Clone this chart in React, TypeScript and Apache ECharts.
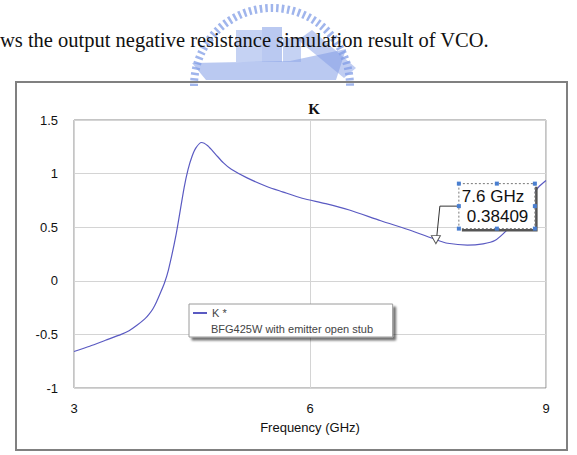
import React, { useEffect, useRef } from "react";
import * as echarts from "echarts";

const freqGHz = [3.0, 3.2, 3.4, 3.6, 3.7, 3.8, 3.9, 3.95, 4.0, 4.05, 4.1, 4.15, 4.2, 4.3, 4.4, 4.45, 4.5, 4.55, 4.62, 4.7, 4.8, 4.9, 5.0, 5.2, 5.45, 5.65, 5.9, 6.2, 6.5, 6.9, 7.3, 7.6, 7.75, 8.0, 8.2, 8.35, 8.5, 8.6, 8.7, 8.8, 8.9, 9.0];
const kValues = [-0.66, -0.61, -0.555, -0.5, -0.465, -0.415, -0.355, -0.315, -0.265, -0.195, -0.11, -0.02, 0.1, 0.44, 0.87, 1.04, 1.16, 1.24, 1.29, 1.26, 1.18, 1.1, 1.04, 0.96, 0.88, 0.83, 0.77, 0.72, 0.66, 0.56, 0.465, 0.38409, 0.35, 0.333, 0.345, 0.375, 0.47, 0.56, 0.66, 0.77, 0.87, 0.935];
const xTicks = [3, 6, 9];
const yTicks = [-1, -0.5, 0, 0.5, 1, 1.5];
const seriesName = "K *";
const seriesDesc = "BFG425W with emitter open stub";
const chartTitle = "K";
const xAxisName = "Frequency (GHz)";
const markerFreq = 7.6;
const markerValue = 0.38409;
const markerLines = ["7.6 GHz", "0.38409"];
const captionText = "ws the output negative resistance simulation result of VCO.";

export default function App() {
  const ref = useRef<HTMLDivElement>(null);
  useEffect(() => {
    if (!ref.current) return;
    const chart = echarts.init(ref.current, undefined, { renderer: "svg" });
    const data = freqGHz.map((f, i) => [f, kValues[i]]);
    chart.setOption({
      animation: false,
      backgroundColor: "#ffffff",
      title: {
        text: chartTitle,
        left: 309,
        top: 96,
        textAlign: "center",
        textStyle: { fontFamily: "Liberation Serif", fontSize: 15, fontWeight: "bold", color: "#111" },
      },
      grid: { left: 74, right: 31, top: 120, bottom: 67, show: true, borderColor: "#8a8a8a", borderWidth: 1, backgroundColor: "transparent" },
      legend: {
        left: 189,
        top: 304,
        orient: "vertical",
        padding: [3.5, 166, 18.5, 4],
        backgroundColor: "#ffffff",
        borderColor: "#9a9a9a",
        borderWidth: 1,
        shadowColor: "rgba(0,0,0,0.55)",
        shadowOffsetX: 3,
        shadowOffsetY: 3,
        shadowBlur: 2,
        itemWidth: 14,
        itemHeight: 2,
        itemGap: 4,
        icon: "rect",
        textStyle: { fontFamily: "Liberation Sans", fontSize: 11, color: "#444" },
        data: [seriesName],
      },
      xAxis: {
        type: "value",
        min: 3,
        max: 9,
        interval: 3,
        name: xAxisName,
        nameLocation: "middle",
        nameGap: 33,
        nameTextStyle: { fontFamily: "Liberation Sans", fontSize: 13, color: "#111" },
        axisLine: { show: false },
        axisTick: { show: false },
        axisLabel: { margin: 14, fontFamily: "Liberation Sans", fontSize: 13, color: "#111", customValues: xTicks },
        splitLine: { show: true, lineStyle: { color: "#d4d4d4", width: 1 } },
      },
      yAxis: {
        type: "value",
        min: -1,
        max: 1.5,
        interval: 0.5,
        axisLine: { show: false },
        axisTick: { show: false },
        axisLabel: { margin: 16, fontFamily: "Liberation Sans", fontSize: 13, color: "#111", customValues: yTicks },
        splitLine: { show: true, lineStyle: { color: "#d4d4d4", width: 1 } },
      },
      series: [
        {
          name: seriesName,
          type: "line",
          data,
          smooth: 0.25,
          showSymbol: false,
          lineStyle: { color: "#5a5ac2", width: 1.2 },
          itemStyle: { color: "#5a5ac2" },
          markPoint: {
            symbol: "triangle",
            symbolRotate: 180,
            symbolSize: [9, 8],
            itemStyle: { color: "#ffffff", borderColor: "#555", borderWidth: 1 },
            label: { show: false },
            data: [{ coord: [markerFreq, markerValue] }],
          },
        },
      ],
    });

    const pt = chart.convertToPixel({ gridIndex: 0 }, [markerFreq, markerValue]) as number[];
    const bx = pt[0] + 23;
    const by = pt[1] - 56;
    const bw = 76;
    const bh = 45;
    const handles = [
      [bx, by], [bx + bw / 2, by], [bx + bw, by],
      [bx, by + bh / 2], [bx + bw, by + bh / 2],
      [bx, by + bh], [bx + bw / 2, by + bh], [bx + bw, by + bh],
    ].map(([hx, hy]) => ({
      type: "rect",
      z: 120,
      shape: { x: hx - 2, y: hy - 2, width: 4, height: 4 },
      style: { fill: "#4a7fd0" },
    }));

    const logoColor = "rgba(120,150,228,0.7)";
    chart.setOption({
      graphic: [
        // watermark emblem
        {
          type: "arc",
          z: 1,
          shape: { cx: 272, cy: 86, r: 78, startAngle: Math.PI * 1.0, endAngle: Math.PI * 2.0 },
          style: { stroke: logoColor, lineWidth: 8, lineDash: [2.5, 3], fill: "none" },
        },
        {
          type: "polygon",
          z: 1,
          shape: { points: [[192, 63], [290, 61], [346, 49], [336, 80], [206, 80]] },
          style: { fill: "rgba(130,156,230,0.55)" },
        },
        { type: "rect", z: 1, shape: { x: 236, y: 30, width: 26, height: 32 }, style: { fill: "rgba(140,165,232,0.5)" } },
        { type: "rect", z: 1, shape: { x: 262, y: 27, width: 20, height: 35 }, style: { fill: "rgba(130,156,230,0.55)" } },
        { type: "rect", z: 1, shape: { x: 283, y: 38, width: 18, height: 24 }, style: { fill: "rgba(140,165,232,0.5)" } },
        {
          type: "polygon",
          z: 1,
          shape: { points: [[298, 40], [312, 30], [356, 68], [344, 78]] },
          style: { fill: "rgba(130,156,230,0.5)" },
        },
        {
          type: "text",
          z: 5,
          x: 0,
          y: 40,
          style: { text: captionText, fontFamily: "Liberation Serif", fontSize: 20.5, fill: "#111", verticalAlign: "middle" },
        },
        // outer frame
        {
          type: "rect",
          z: 2,
          shape: { x: 16, y: 82, width: 551, height: 368 },
          style: { fill: "none", stroke: "#808080", lineWidth: 2 },
        },
        // legend second line
        {
          type: "text",
          z: 110,
          x: 211,
          y: 329,
          style: { text: seriesDesc, fontFamily: "Liberation Sans", fontSize: 11, fill: "#444", verticalAlign: "middle" },
        },
        // annotation leader
        {
          type: "polyline",
          z: 100,
          shape: { points: [[bx, by + bh / 2], [pt[0] + 4, by + bh / 2], [pt[0] + 1, pt[1] - 4]] },
          style: { stroke: "#333", lineWidth: 1, fill: "none" },
        },
        // annotation shadow
        {
          type: "polyline",
          z: 100,
          shape: { points: [[bx + bw + 1.5, by + 3], [bx + bw + 1.5, by + bh + 1.5], [bx + 3, by + bh + 1.5]] },
          style: { stroke: "#555", lineWidth: 2.5, fill: "none" },
        },
        {
          type: "rect",
          z: 101,
          shape: { x: bx, y: by, width: bw, height: bh },
          style: { fill: "#ffffff", stroke: "#777", lineWidth: 1, lineDash: [2, 2] },
        },
        {
          type: "text",
          z: 110,
          x: bx + 3,
          y: by + 13,
          style: { text: markerLines[0], fontFamily: "Liberation Sans", fontSize: 17, fill: "#111", verticalAlign: "middle" },
        },
        {
          type: "text",
          z: 110,
          x: bx + 8,
          y: by + 33,
          style: { text: markerLines[1], fontFamily: "Liberation Sans", fontSize: 17, fill: "#111", verticalAlign: "middle" },
        },
        ...handles,
      ],
    });
    return () => chart.dispose();
  }, []);
  return (
    <div
      ref={ref}
      style={{ position: "fixed", left: 0, top: 0, width: 577, height: 455, background: "#fff" }}
    />
  );
}
